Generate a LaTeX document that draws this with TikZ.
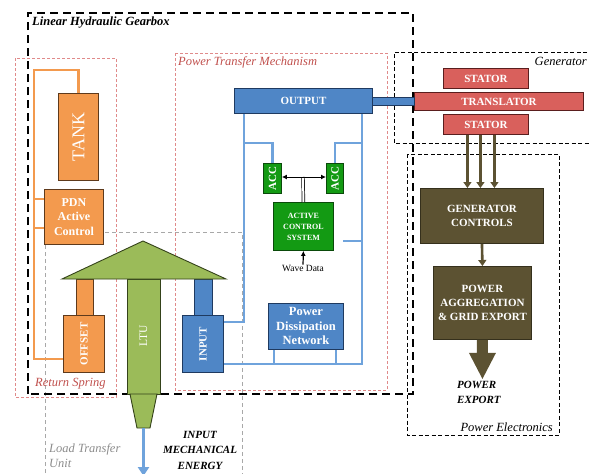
\documentclass[tikz,border=0pt]{standalone}
\usepackage{fontspec}
\setmainfont{Liberation Serif}
\usetikzlibrary{arrows.meta,calc}
\definecolor{orfill}{HTML}{F39A4E}
\definecolor{orline}{HTML}{5E3A1C}
\definecolor{bfill}{HTML}{4F86C6}
\definecolor{bdark}{HTML}{1F3A60}
\definecolor{bline}{HTML}{6FA3DC}
\definecolor{gfill}{HTML}{139A13}
\definecolor{gdark}{HTML}{0A4A0A}
\definecolor{ltufill}{HTML}{9BBB59}
\definecolor{ltudark}{HTML}{34421A}
\definecolor{rfill}{HTML}{D9605C}
\definecolor{rdark}{HTML}{5A1E1E}
\definecolor{olfill}{HTML}{5C5232}
\definecolor{oldark}{HTML}{35301C}
\definecolor{pinkd}{HTML}{E08A8A}
\definecolor{pinkt}{HTML}{C0504D}
\definecolor{greyd}{HTML}{A8A8A8}
\definecolor{greyt}{HTML}{8C8C8C}
\begin{document}
\begin{tikzpicture}[x=1pt,y=-1pt,
  box/.style={draw, line width=0.9pt, inner sep=0pt, anchor=north west, text=white, align=center, font=\bfseries\fontsize{11}{14}\selectfont},
  obox/.style={box, fill=orfill, draw=orline},
  bbox/.style={box, fill=bfill, draw=bdark},
  gbox/.style={box, fill=gfill, draw=gdark},
  rbox/.style={box, fill=rfill, draw=rdark},
  olbox/.style={box, fill=olfill, draw=oldark},
  gearline/.style={draw=black, line width=2.3pt, dash pattern=on 8pt off 5pt},
  blkdash/.style={draw=black, line width=1pt, dash pattern=on 4pt off 2.5pt},
  pinkdash/.style={draw=pinkd, line width=0.8pt, dash pattern=on 3pt off 2pt},
  greydash/.style={draw=greyd, line width=1pt, dash pattern=on 4pt off 3pt},
  lab/.style={inner sep=0pt, anchor=west, font=\itshape\fontsize{12.5}{14}\selectfont},
  bl/.style={draw=bline, line width=2.4pt},
  ol/.style={draw=orfill, line width=2.4pt},
  garr/.style={draw=olfill, line width=2.6pt, -{Triangle[width=8pt,length=6pt]}},
]
\useasboundingbox (0,0) rectangle (590,474);

% ---- group frames ----
\draw[greydash] (45,480) -- (45,232) -- (242,232) -- (242,480);
\draw[pinkdash] (15,58) rectangle (116,397);
\draw[pinkdash] (175,53) rectangle (387,390);
\draw[blkdash] (600,52) -- (394,52) -- (394,143) -- (600,143);
\draw[blkdash] (407,154) rectangle (559,435);
\draw[gearline] (28,394) -- (28,13) -- (413,13) -- (413,394) -- cycle;

% ---- group labels ----
\node[lab, font=\bfseries\itshape\fontsize{12.5}{14}\selectfont] (lhg) at (32,23) {Linear Hydraulic Gearbox};
\node[lab, text=pinkt] (ptm) at (178,62) {Power Transfer Mechanism};
\node[lab, text=pinkt] (rsp) at (35,384) {Return Spring};
\node[lab, anchor=east] (gen) at (587,61) {Generator};
\node[lab, anchor=east] (pel) at (553,427) {Power Electronics};
\node[lab, text=greyt, anchor=north west, align=left, font=\itshape\fontsize{12.5}{15}\selectfont] (ltul) at (49,443) {Load Transfer\\Unit};

% ---- return spring ----
\node[obox, minimum width=40pt, minimum height=87pt] (tank) at (58,93) {\rotatebox{90}{\mdseries\fontsize{18}{18}\selectfont TANK}};
\node[obox, minimum width=59pt, minimum height=55pt, font=\bfseries\fontsize{12}{14.5}\selectfont] (pdn) at (44,189) {PDN\\Active\\Control};
\fill[orfill, draw=orline, line width=0.9pt] (76,279) rectangle (93,315);
\node[obox, minimum width=41pt, minimum height=57pt] (offset) at (63,315) {\rotatebox{90}{OFFSET}};
\coordinate (otop) at (34,70);
\coordinate (obot) at (34,359);
\coordinate (p1) at (34,199);
\coordinate (p2) at (34,228);
\draw[ol] (tank.north) |- (otop) -- (obot) -- (offset.west |- obot);
\draw[ol] (p1) -- (pdn.west |- p1);
\draw[ol] (p2) -- (pdn.west |- p2);

% ---- input stem ----
\fill[bfill, draw=bdark, line width=0.9pt] (194,279) rectangle (212,315);
\node[bbox, minimum width=41pt, minimum height=57pt] (input) at (182,315) {\rotatebox{90}{INPUT}};

% ---- LTU ----
\filldraw[fill=ltufill, draw=ltudark, line width=0.9pt] (127,279) rectangle (160,394);
\filldraw[fill=ltufill, draw=ltudark, line width=0.9pt] (130,394) -- (157,394) -- (150,428) -- (137,428) -- cycle;
\filldraw[fill=ltufill, draw=ltudark, line width=0.9pt] (62,279) -- (143,241) -- (226,279) -- cycle;
\node[inner sep=0pt, text=white, font=\fontsize{11.5}{11.5}\selectfont] (ltu) at (143.5,336) {\rotatebox{90}{LTU}};
\coordinate (ltubot) at (143.5,428);
\coordinate (energy) at (143.5,476);
\draw[draw=bline, line width=3pt, -{Triangle[width=11pt,length=9pt]}] (ltubot) -- (energy);
\node[inner sep=0pt, align=center, font=\bfseries\itshape\fontsize{11}{15.5}\selectfont] (ime) at (200,450) {INPUT\\MECHANICAL\\ENERGY};

% ---- power transfer mechanism ----
\node[bbox, minimum width=138pt, minimum height=25pt] (output) at (234,88) {OUTPUT};
\node[gbox, minimum width=18pt, minimum height=30pt, font=\bfseries\fontsize{11}{11}\selectfont] (accl) at (263,163) {\rotatebox{90}{ACC}};
\node[gbox, minimum width=17pt, minimum height=30pt, font=\bfseries\fontsize{11}{11}\selectfont] (accr) at (326,163) {\rotatebox{90}{ACC}};
\node[gbox, minimum width=60pt, minimum height=48pt, font=\bfseries\fontsize{8}{11}\selectfont] (acs) at (273,202) {ACTIVE\\CONTROL\\SYSTEM};
\node[inner sep=0pt, font=\fontsize{9.5}{10}\selectfont] (wave) at (303,268) {Wave Data};
\node[bbox, minimum width=75pt, minimum height=46pt, font=\bfseries\fontsize{12.5}{14.5}\selectfont] (pdnet) at (268,303) {Power\\Dissipation\\Network};

\coordinate (bL) at (244,322);
\coordinate (bLb) at (244,143);
\coordinate (bR) at (362,364);
\coordinate (bRb) at (362,143);
\coordinate (spur) at (343,241);
\draw[bl] (input.east |- bL) -- (bL) -- (bL |- output.south);
\draw[bl] (bLb) -| (accl.north);
\draw[bl] (input.east |- bR) -- (bR) -- (bR |- output.south);
\draw[bl] (bRb) -| (accr.north);
\draw[bl] (spur) -- (spur -| bR);
\draw[bl] ($(pdnet.south west)+(6,0)$) -- ++(0,15);
\draw[bl] ($(pdnet.south east)+(-8,0)$) -- ++(0,15);

\coordinate (split) at (303,177);
\draw[line width=0.7pt, double=white, double distance=2pt] (acs.north) -- (split);
\draw[line width=1pt, -{Latex[length=5pt,width=5pt]}] (split) -- (accl.east |- split);
\draw[line width=1pt, -{Latex[length=5pt,width=5pt]}] (split) -- (accr.west |- split);
\draw[line width=1.2pt, -{Latex[length=5pt,width=5pt]}] (wave.north) -- (acs.south);

% ---- generator ----
\node[rbox, minimum width=85pt, minimum height=20pt] (statT) at (443,68) {STATOR};
\node[rbox, minimum width=169pt, minimum height=18pt] (transl) at (414,92) {TRANSLATOR};
\node[rbox, minimum width=85pt, minimum height=20pt] (statB) at (443,114) {STATOR};
\path (output.east) ++(0,-4) coordinate (sh1);
\path (transl.west) ++(0,4) coordinate (sh2);
\filldraw[fill=bfill, draw=bdark, line width=0.9pt] (sh1) rectangle (sh2);

% ---- power electronics ----
\node[olbox, minimum width=123pt, minimum height=55pt] (genctl) at (420,188) {GENERATOR\\CONTROLS};
\node[olbox, minimum width=98pt, minimum height=73pt] (pagg) at (433,266) {POWER\\AGGREGATION\\\& GRID EXPORT};
\foreach \dx in {-14.5,-1.5,12.5} {
  \path (genctl.north) ++(\dx,0) coordinate (t);
  \draw[garr] (t |- statB.south) -- (t);
}
\draw[garr] (genctl.south) -- (pagg.north);
\fill[olfill] ($(pagg.south)+(-5.5,0)$) -- ++(0,13) -- ++(-8,0) -- ($(pagg.south)+(0,39)$)
  -- ($(pagg.south)+(13.5,13)$) -- ($(pagg.south)+(5.5,13)$) -- ($(pagg.south)+(5.5,0)$) -- cycle;
\node[inner sep=0pt, anchor=north west, align=left, font=\bfseries\itshape\fontsize{11}{15}\selectfont] (pexp) at (457,381) {POWER\\EXPORT};
\end{tikzpicture}
\end{document}
